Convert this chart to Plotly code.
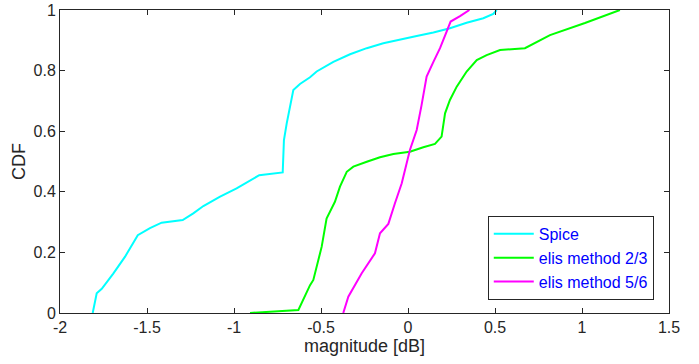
import plotly.graph_objects as go

spice_x = [-1.812, -1.789, -1.76, -1.694, -1.626, -1.553, -1.483, -1.416, -1.295, -1.234, -1.176,
           -1.08, -0.985, -0.855, -0.72, -0.713, -0.697, -0.678, -0.659, -0.621, -0.563, -0.525,
           -0.429, -0.333, -0.237, -0.142, -0.046, 0.05, 0.146, 0.241, 0.337, 0.433, 0.49, 0.51]
spice_y = [0.0, 0.065, 0.08, 0.13, 0.186, 0.257, 0.28, 0.298, 0.307, 0.329, 0.353,
           0.384, 0.411, 0.455, 0.464, 0.571, 0.626, 0.681, 0.736, 0.756, 0.778, 0.797,
           0.829, 0.854, 0.874, 0.89, 0.901, 0.914, 0.926, 0.94, 0.958, 0.973, 0.987, 1.0]

m23_x = [-0.908, -0.63, -0.563, -0.544, -0.496, -0.468, -0.42, -0.391, -0.352, -0.314, -0.237,
         -0.161, -0.084, 0.011, 0.088, 0.155, 0.193, 0.213, 0.241, 0.28, 0.337, 0.395, 0.452,
         0.529, 0.672, 0.816, 1.017, 1.218]
m23_y = [0.0, 0.01, 0.092, 0.109, 0.219, 0.312, 0.367, 0.417, 0.466, 0.483, 0.499,
         0.514, 0.525, 0.532, 0.547, 0.558, 0.582, 0.659, 0.703, 0.747, 0.797, 0.835, 0.851,
         0.868, 0.874, 0.917, 0.957, 1.0]

m56_x = [-0.372, -0.343, -0.266, -0.19, -0.161, -0.113, -0.075, -0.036, 0.011, 0.05, 0.078,
         0.107, 0.146, 0.184, 0.222, 0.245, 0.299, 0.353]
m56_y = [0.0, 0.054, 0.131, 0.197, 0.263, 0.294, 0.362, 0.428, 0.538, 0.604, 0.686,
         0.78, 0.829, 0.874, 0.929, 0.962, 0.98, 1.0]

x_ticks = [-2, -1.5, -1, -0.5, 0, 0.5, 1, 1.5]
x_tick_labels = ["-2", "-1.5", "-1", "-0.5", "0", "0.5", "1", "1.5"]
y_ticks = [0, 0.2, 0.4, 0.6, 0.8, 1]
y_tick_labels = ["0", "0.2", "0.4", "0.6", "0.8", "1"]

fig = go.Figure()
fig.add_trace(go.Scatter(x=spice_x, y=spice_y, mode="lines", name="Spice",
                         line=dict(color="#00FFFF", width=2)))
fig.add_trace(go.Scatter(x=m23_x, y=m23_y, mode="lines", name="elis method 2/3",
                         line=dict(color="#00FF00", width=2)))
fig.add_trace(go.Scatter(x=m56_x, y=m56_y, mode="lines", name="elis method 5/6",
                         line=dict(color="#FF00FF", width=2)))

axis_common = dict(showgrid=False, zeroline=False, showline=True, linecolor="#262626",
                   linewidth=1, mirror="ticks", ticks="inside", ticklen=5,
                   tickcolor="#262626", tickfont=dict(size=16, color="#262626"),
                   automargin=False)

fig.update_layout(
    width=699, height=364,
    margin=dict(l=60, r=30, t=10, b=51, pad=0),
    paper_bgcolor="white", plot_bgcolor="white",
    font=dict(family="Liberation Sans, Arial, sans-serif", color="#262626"),
    xaxis=dict(range=[-2, 1.5], tickvals=x_ticks, ticktext=x_tick_labels,
               title=dict(text="magnitude [dB]", font=dict(size=18), standoff=1),
               **axis_common),
    yaxis=dict(range=[0, 1], tickvals=y_ticks, ticktext=y_tick_labels,
               title=dict(text="CDF", font=dict(size=18), standoff=3),
               **axis_common),
    legend=dict(x=0.975, y=0.043, xanchor="right", yanchor="bottom",
                bgcolor="white", bordercolor="#262626", borderwidth=1,
                font=dict(size=16, color="#0000FF"), tracegroupgap=0,
                itemwidth=40),
    showlegend=True,
)

fig.write_html("out.html", config={"displayModeBar": False},
               post_script="document.body.style.margin='0px';document.body.style.padding='0px';")
